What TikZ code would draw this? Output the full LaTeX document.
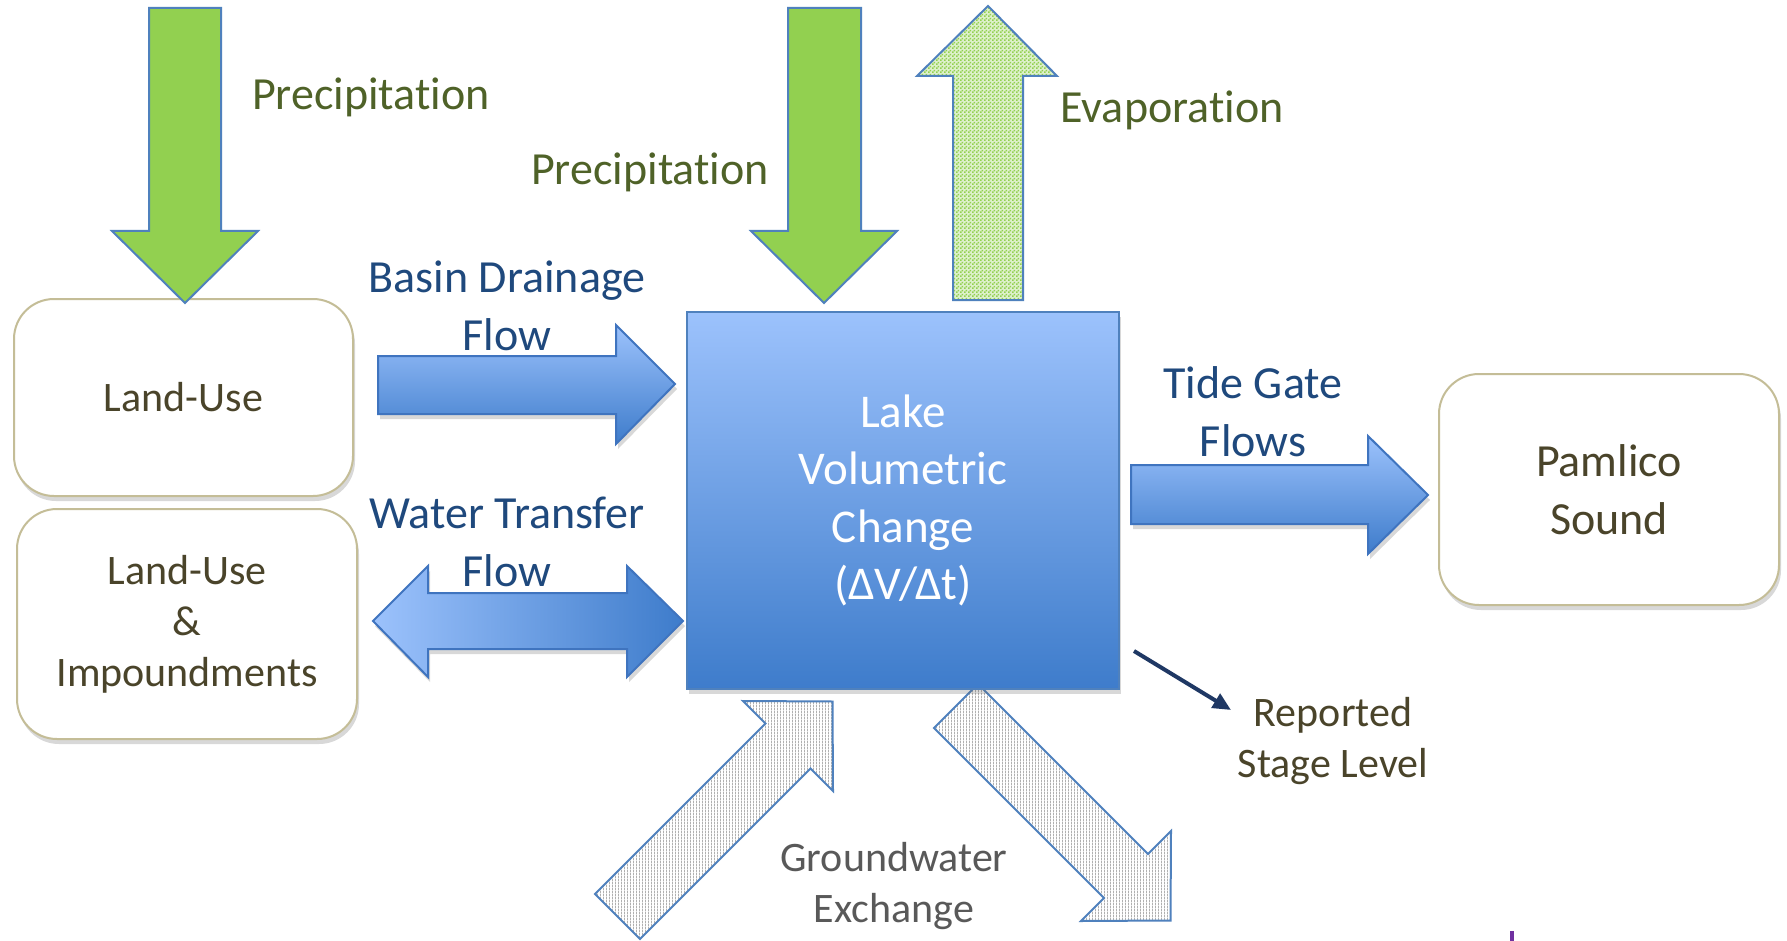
\documentclass[tikz,border=0pt]{standalone}
\usepackage{fontspec}
\setmainfont[Ligatures={NoCommon}]{Carlito}
\usetikzlibrary{arrows.meta,patterns,patterns.meta,shadows}

\definecolor{pgreen}{HTML}{92D050}
\definecolor{oblue}{HTML}{4F81BD}
\definecolor{ablue}{HTML}{3F74BF}
\definecolor{gtext}{HTML}{4F6228}
\definecolor{btext}{HTML}{1F497D}
\definecolor{dtext}{HTML}{4A442A}
\definecolor{grtext}{HTML}{595959}
\definecolor{tanline}{HTML}{C4BD97}
\definecolor{lightb}{HTML}{9CC2FC}
\definecolor{darkb}{HTML}{3E7CCB}
\definecolor{navy}{HTML}{1F3864}
\definecolor{stripe}{HTML}{B0B0B0}
\definecolor{purp}{HTML}{7030A0}

\tikzdeclarepattern{
  name=evapcheck,
  type=uncolored,
  bounding box={(0,0) and (2pt,2pt)},
  tile size={(2pt,2pt)},
  code={\fill (0,0) rectangle (1pt,1pt); \fill (1pt,1pt) rectangle (2pt,2pt);}
}
\tikzdeclarepattern{
  name=gwstripes,
  type=uncolored,
  bounding box={(0,0) and (1.5pt,1.5pt)},
  tile size={(1.5pt,1.5pt)},
  code={\fill (0,0) rectangle (0.5pt,1.5pt);}
}

\begin{document}
\begin{tikzpicture}[x=0.5pt,y=-0.5pt,
  bigf/.style={font=\fontsize{23pt}{28.8pt}\selectfont},
  smallf/.style={font=\fontsize{21pt}{25.5pt}\selectfont},
  greenarrow/.style={fill=pgreen, draw=oblue, line width=1pt, line join=miter},
  evaparrow/.style={draw=oblue, line width=1pt, line join=miter, preaction={fill=pgreen!30}, pattern=evapcheck, pattern color=pgreen},
  gwarrow/.style={draw=oblue, line width=1pt, line join=miter, preaction={fill=white}, pattern=gwstripes, pattern color=stripe},
  bluearrow/.style={draw=ablue, line width=1pt, line join=miter, top color=lightb, bottom color=darkb,
     drop shadow={shadow xshift=1pt, shadow yshift=-2.5pt, opacity=0.25, fill=black!60}},
  hbluearrow/.style={draw=ablue, line width=1pt, line join=miter, left color=lightb, right color=darkb,
     drop shadow={shadow xshift=1pt, shadow yshift=-2.5pt, opacity=0.25, fill=black!60}},
  roundbox/.style={draw=tanline, line width=1pt, fill=white, rounded corners=20pt, text=dtext,
     align=center, smallf, inner sep=0pt,
     drop shadow={shadow xshift=1pt, shadow yshift=-2.5pt, opacity=0.25, fill=black!60}},
  lakebox/.style={draw=oblue, line width=1pt, top color=lightb, bottom color=darkb, text=white,
     align=center, font=\fontsize{23.5pt}{28.8pt}\selectfont, inner sep=0pt,
     drop shadow={shadow xshift=1pt, shadow yshift=-2.5pt, opacity=0.25, fill=black!60}},
  glabel/.style={text=gtext, bigf, anchor=base, inner sep=0pt},
  blabel/.style={text=btext, bigf, anchor=base, align=center, inner sep=0pt},
  dlabel/.style={text=dtext, smallf, anchor=base, align=center, inner sep=0pt},
  glabelgray/.style={text=grtext, smallf, anchor=base, align=center, inner sep=0pt},
  repline/.style={draw=navy, line width=2pt, -{Triangle[length=9pt,width=8pt]}}
]
\useasboundingbox (0,0) rectangle (1787,941);
\fill[white] (0,0) rectangle (1787,941);

% rounded boxes
\node[roundbox, minimum width=169.5pt, minimum height=98.5pt] (landuse) at (183.5,397.5) {Land-Use};
\node[roundbox, minimum width=170pt, minimum height=115pt] (landimp) at (187,624) {Land-Use\\\&\\Impoundments};
\node[roundbox, minimum width=170pt, minimum height=115.5pt, font=\fontsize{23pt}{28.8pt}\selectfont] (pamlico) at (1609,489.5) {Pamlico\\Sound};

% green precipitation arrows
\draw[greenarrow] (149,8) -- (221,8) -- (221,231) -- (258,231) -- (185,303) -- (112,231) -- (149,231) -- cycle;
\draw[greenarrow] (788,8) -- (861,8) -- (861,231) -- (897,231) -- (824,303) -- (751,231) -- (788,231) -- cycle;

% evaporation arrow
\draw[evaparrow] (953,300) -- (953,76) -- (917,76) -- (988,6) -- (1057,76) -- (1023,76) -- (1023,300) -- cycle;

% groundwater arrows
\draw[gwarrow] (595,894) -- (765.5,723.5) -- (743,701) -- (832.5,701.5) -- (833,791) -- (810.5,768.5) -- (640,939) -- cycle;
\draw[gwarrow] (978,684) -- (1148,854) -- (1171,831) -- (1170.5,920.5) -- (1081,921) -- (1104,898) -- (934,728) -- cycle;

% lake box
\node[lakebox, minimum width=216pt, minimum height=188.5pt] (lake) at (903,500.5) {Lake\\Volumetric\\Change\\(ΔV/Δt)};

% blue flow arrows
\draw[bluearrow] (378,356) -- (616,356) -- (616,325) -- (675,384) -- (616,444) -- (616,414) -- (378,414) -- cycle;
\draw[hbluearrow] (373,621) -- (428,566) -- (428,593) -- (627,593) -- (627,566) -- (683,621) -- (627,677) -- (627,649) -- (428,649) -- (428,677) -- cycle;
\draw[bluearrow] (1131,465) -- (1368,465) -- (1368,436) -- (1428,495) -- (1368,554) -- (1368,524) -- (1131,524) -- cycle;

% labels (multi-line labels are anchored at the baseline of their last line)
\node[glabel] (precipL) at (371,110) {Precipitation};
\node[glabel] (precipC) at (650,185) {Precipitation};
\node[glabel] (evap) at (1172,123) {Evaporation};
\node[blabel] (basin) at (507,350) {Basin Drainage\\Flow};
\node[blabel] (water) at (507,586) {Water Transfer\\Flow};
\node[blabel] (tide) at (1253,456) {Tide Gate\\Flows};
\node[dlabel] (reported) at (1333,777) {Reported\\Stage Level};
\node[glabelgray] (ground) at (894,922) {Groundwater\\Exchange};

% reported stage level pointer
\coordinate (rsA) at (1134,651);
\coordinate (rsB) at (1231,710);
\draw[repline] (rsA) -- (rsB);

% small purple mark at bottom edge
\fill[purp] (1510,931) rectangle (1514,941);
\end{tikzpicture}
\end{document}
